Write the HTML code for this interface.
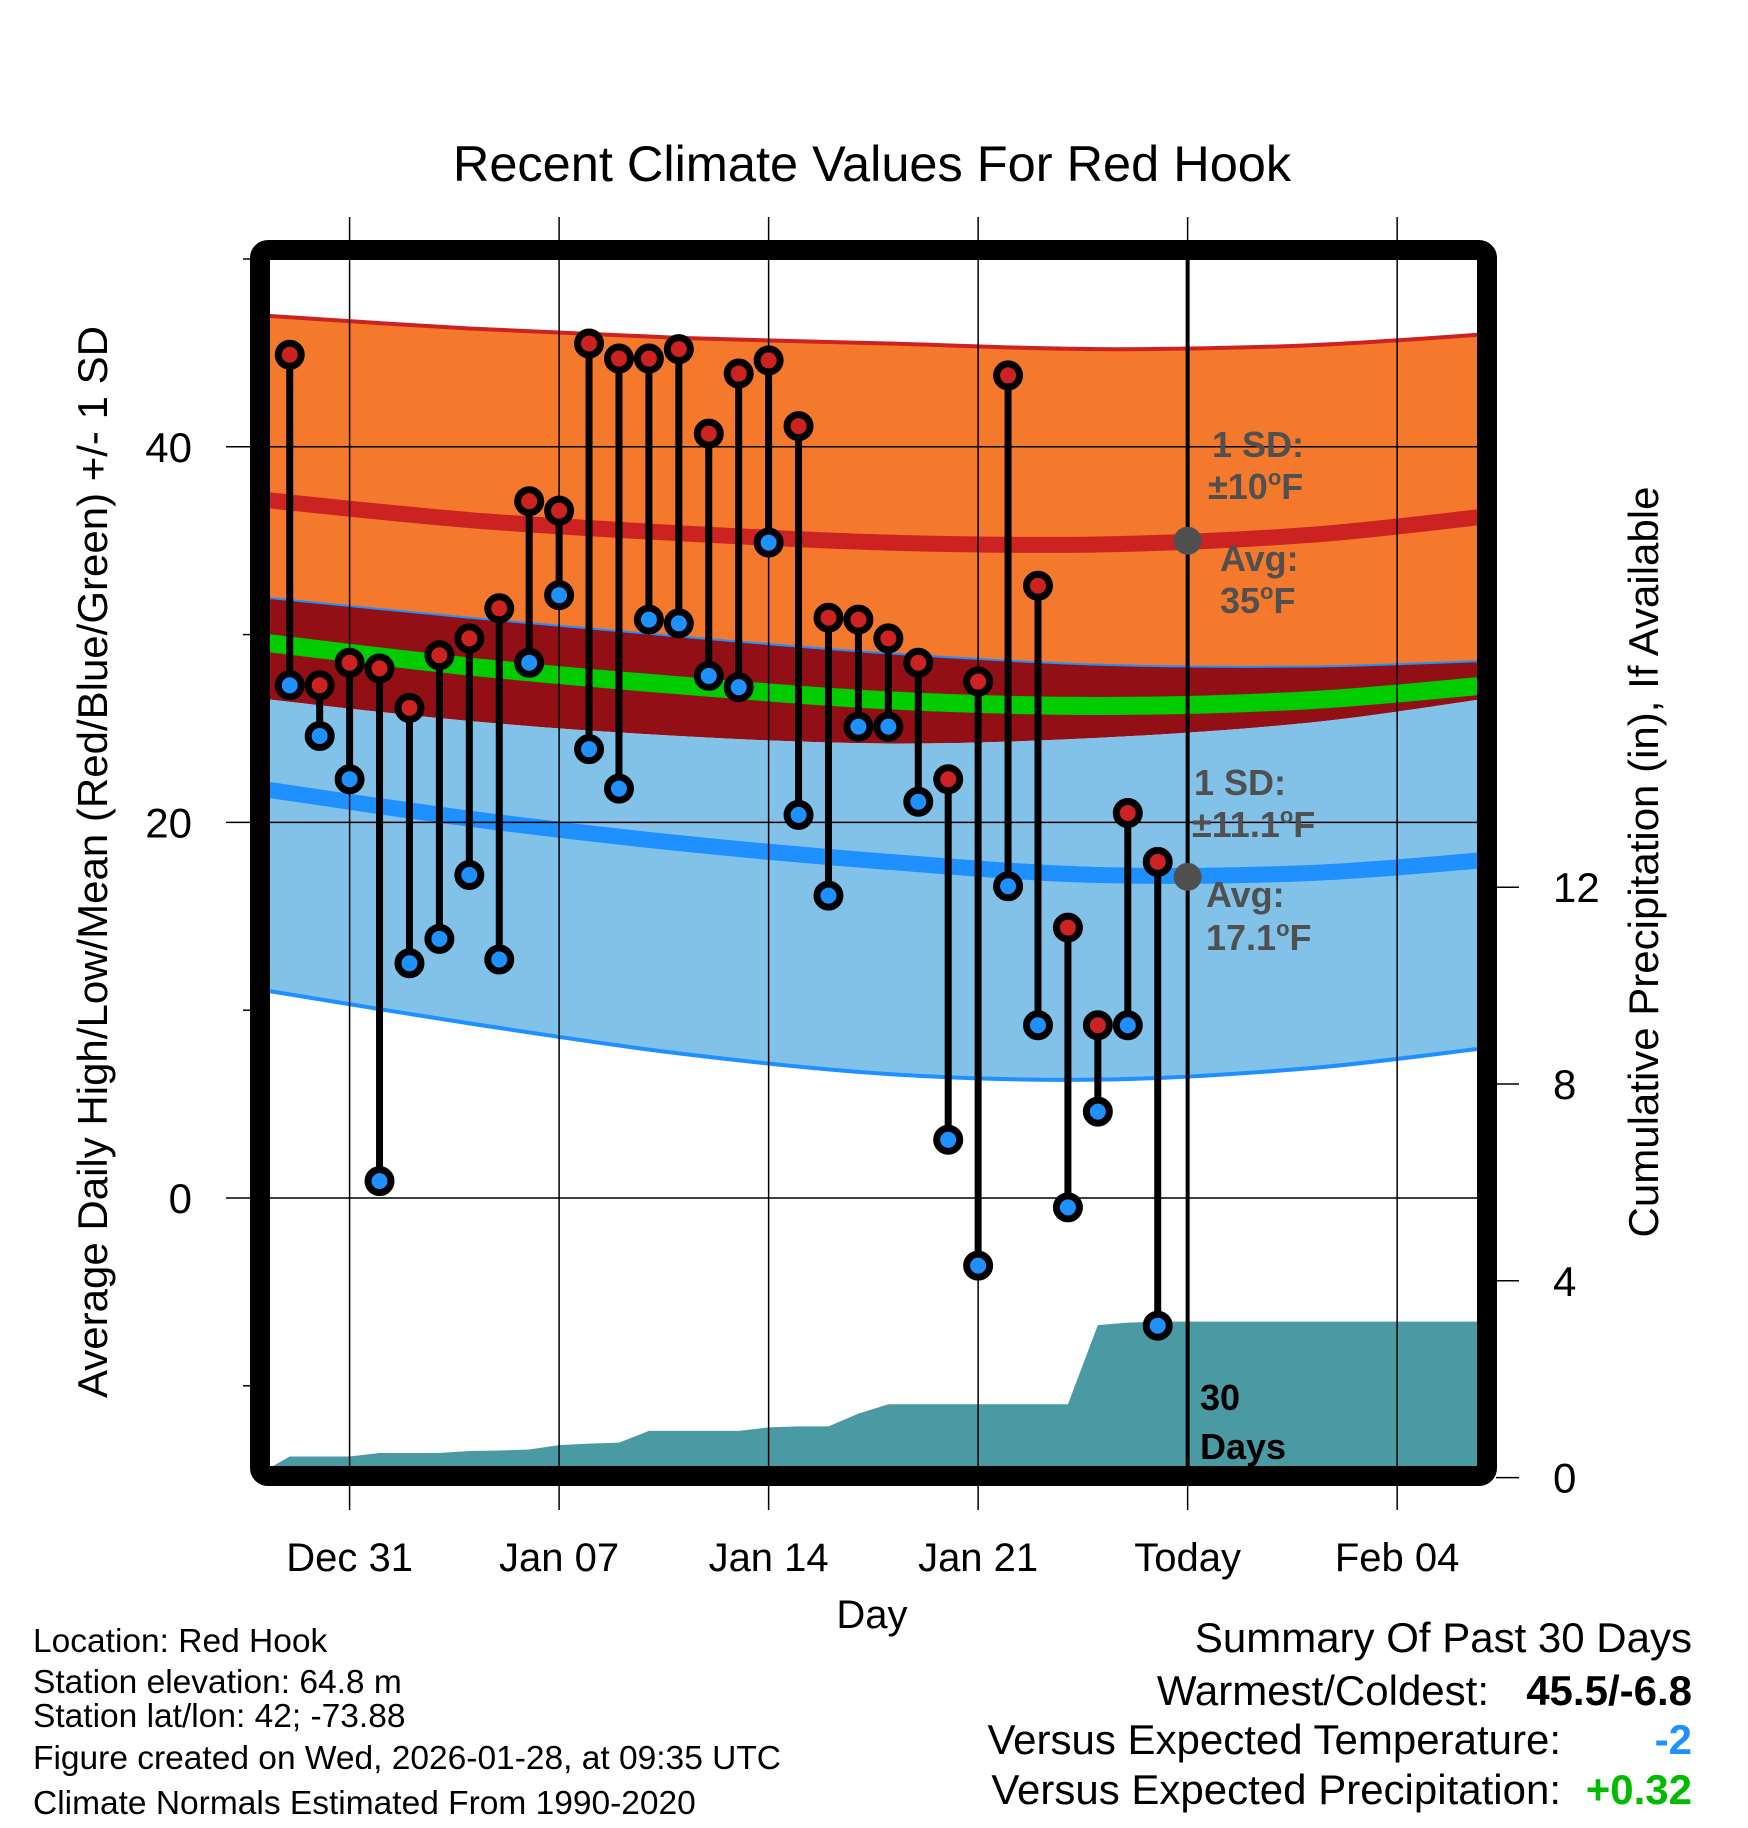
<!DOCTYPE html>
<html><head><meta charset="utf-8"><style>
html,body{margin:0;padding:0;background:#fff}
svg{display:block;font-family:"Liberation Sans",sans-serif}
</style></head><body>
<svg id="chart" width="1748" height="1828" viewBox="0 0 1748 1828" xmlns="http://www.w3.org/2000/svg">
<text x="872" y="181" font-size="50.5" text-anchor="middle">Recent Climate Values For Red Hook</text>
<g id="fills"></g>
<g id="grid"></g>
<g id="marks"></g>
<g id="annot" font-weight="bold" fill="#505050" font-size="36">
 <text x="1212" y="457">1 SD:</text>
 <text x="1208" y="499">±10<tspan font-size="22" dy="-14">o</tspan><tspan dy="14">F</tspan></text>
 <text x="1220" y="571">Avg:</text>
 <text x="1220" y="613">35<tspan font-size="22" dy="-14">o</tspan><tspan dy="14">F</tspan></text>
 <text x="1194" y="795">1 SD:</text>
 <text x="1192" y="837">±11.1<tspan font-size="22" dy="-14">o</tspan><tspan dy="14">F</tspan></text>
 <text x="1206" y="907">Avg:</text>
 <text x="1206" y="950">17.1<tspan font-size="22" dy="-14">o</tspan><tspan dy="14">F</tspan></text>
 <text x="1200" y="1410" fill="#000">30</text>
 <text x="1200" y="1459" fill="#000">Days</text>
</g>
<rect x="260" y="250" width="1227" height="1226" rx="8" fill="none" stroke="#000" stroke-width="20"/>
<text transform="translate(107,862) rotate(-90)" font-size="42" text-anchor="middle">Average Daily High/Low/Mean (Red/Blue/Green) +/- 1 SD</text>
<text transform="translate(1658,862) rotate(-90)" font-size="42" text-anchor="middle">Cumulative Precipitation (in), If Available</text>
<text x="872" y="1628" font-size="40" text-anchor="middle">Day</text>
<g font-size="33.5">
 <text x="33" y="1652">Location: Red Hook</text>
 <text x="33" y="1693">Station elevation: 64.8 m</text>
 <text x="33" y="1727">Station lat/lon: 42; -73.88</text>
 <text x="33" y="1769">Figure created on Wed, 2026-01-28, at 09:35 UTC</text>
 <text x="33" y="1814">Climate Normals Estimated From 1990-2020</text>
</g>
<g font-size="42" text-anchor="end">
 <text x="1692" y="1652">Summary Of Past 30 Days</text>
 <text x="1489" y="1705">Warmest/Coldest:</text>
 <text x="1692" y="1705" font-weight="bold">45.5/-6.8</text>
 <text x="1561" y="1754">Versus Expected Temperature:</text>
 <text x="1692" y="1754" font-weight="bold" fill="#1e90ff">-2</text>
 <text x="1561" y="1804">Versus Expected Precipitation:</text>
 <text x="1692" y="1804" font-weight="bold" fill="#00bb00">+0.32</text>
</g>
</svg>
<script>
const days=[-2,-1,0,1,2,3,4,5,6,7,8,9,10,11,12,13,14,15,16,17,18,19,20,21,22,23,24,25,26,27];
const highs=[44.9,27.3,28.5,28.2,26.1,28.9,29.8,31.4,37.1,36.6,45.5,44.7,44.7,45.2,40.7,43.9,44.6,41.1,30.9,30.8,29.8,28.5,22.3,27.5,43.8,32.6,14.4,9.2,20.5,17.9];
const lows=[27.3,24.6,22.3,0.9,12.5,13.8,17.2,12.7,28.5,32.1,23.9,21.8,30.8,30.6,27.8,27.2,34.9,20.4,16.1,25.1,25.1,21.1,3.1,-3.6,16.6,9.2,-0.5,4.6,9.2,-6.8];
const precip=[0.43,0.43,0.43,0.50,0.50,0.50,0.54,0.55,0.57,0.66,0.69,0.71,0.95,0.95,0.95,0.95,1.02,1.04,1.04,1.30,1.49,1.49,1.49,1.49,1.49,1.49,1.49,3.10,3.15,3.17];
const normDays=[-3,4,11,18,25,32,38];
const hiUp=[47.0,46.3,45.8,45.5,45.2,45.4,46.0];
const hiAvg=[37.2,36.1,35.4,34.9,34.8,35.3,36.3];
const hiLo=[32.0,30.9,29.9,29.0,28.4,28.3,28.6];
const meanT=[29.6,28.3,27.3,26.5,26.2,26.5,27.3];
const loUp=[26.6,25.4,24.6,24.2,24.5,25.3,26.6];
const loAvg=[21.8,20.2,18.9,17.9,17.2,17.3,18.0];
const loLo=[11.1,9.3,7.7,6.6,6.3,6.9,8.0];
const xTickDays=[0,7,14,21,28,35];
const xTickLabels=['Dec 31','Jan 07','Jan 14','Jan 21','Today','Feb 04'];
const yTicks=[40,20,0];
const yMinor=[50,30,10,-10];
const pTicks=[0,4,8,12];
const todayDay=28, todayHiAvg=35, todayLoAvg=17.1;

const X0=270,X1=1478,Y0=260,Y1=1467;
const xS=d=>349.6+29.93*d;
const yT=t=>1198-18.78*t;
const yP=p=>1477.6-49.2*p;
const NS='http://www.w3.org/2000/svg';
function mk(tag,attrs,parent){const e=document.createElementNS(NS,tag);for(const k in attrs)e.setAttribute(k,attrs[k]);parent.appendChild(e);return e;}
const fills=document.getElementById('fills'),grid=document.getElementById('grid'),marks=document.getElementById('marks');
const clip=mk('clipPath',{id:'pc'},fills);mk('rect',{x:X0,y:Y0,width:X1-X0,height:Y1-Y0},clip);
function pts(arr){return normDays.map((d,i)=>[xS(d),yT(arr[i])]);}
function smooth(p){let s='';for(let i=0;i<p.length;i++){if(i==0){s+='M'+p[0][0]+','+p[0][1];continue;}
 const p0=p[Math.max(i-2,0)],p1=p[i-1],p2=p[i],p3=p[Math.min(i+1,p.length-1)];
 s+=` C${p1[0]+(p2[0]-p0[0])/6},${p1[1]+(p2[1]-p0[1])/6} ${p2[0]-(p3[0]-p1[0])/6},${p2[1]-(p3[1]-p1[1])/6} ${p2[0]},${p2[1]}`;}return s;}
function band(a,b){const pa=pts(a),pb=pts(b).reverse();return smooth(pa)+' L'+pb[0][0]+','+pb[0][1]+smooth(pb).replace(/^M[^C]*/,'')+'Z';}
const g=mk('g',{'clip-path':'url(#pc)'},fills);
let e;
e=mk('path',{d:band(hiUp,hiLo),fill:'#f4792c'},g);


e=mk('path',{d:band(hiLo,loUp),fill:'#930f16'},g);


e=mk('path',{d:band(loUp,loLo),fill:'#82c1e8'},g);


e=mk('path',{d:smooth(pts(hiUp)),fill:'none',stroke:'#cc2222',"stroke-width":4},g);


e=mk('path',{d:smooth(pts(hiLo)),fill:'none',stroke:'#1e90ff',"stroke-width":2},g);


e=mk('path',{d:smooth(pts(loLo)),fill:'none',stroke:'#1e90ff',"stroke-width":4},g);


e=mk('path',{d:smooth(pts(hiAvg)),fill:'none',stroke:'#cc2222',"stroke-width":16},g);


e=mk('path',{d:smooth(pts(loAvg)),fill:'none',stroke:'#1e90ff',"stroke-width":16},g);


e=mk('path',{d:smooth(pts(meanT)),fill:'none',stroke:'#00cc00',"stroke-width":18},g);


let pd='M'+X0+','+Y1+' L'+X0+','+yP(0.2);
days.forEach((d,i)=>{pd+=' L'+xS(d)+','+yP(precip[i]);});
pd+=' L'+X1+','+yP(precip[precip.length-1])+' L'+X1+','+Y1+'Z';
e=mk('path',{d:pd,fill:'#4a9aa4'},g);


xTickDays.forEach((d,i)=>{
 e=mk('line',{x1:xS(d),x2:xS(d),y1:217,y2:1510,stroke:'#000','stroke-width':1.5},grid);
 
 
 e=mk('text',{x:xS(d),y:1571,'font-size':40,'text-anchor':'middle'},grid);e.textContent=xTickLabels[i];
 
 
});
yTicks.forEach(t=>{
 e=mk('line',{x1:226,x2:X1,y1:yT(t),y2:yT(t),stroke:'#000','stroke-width':1.5},grid);
 
 
 e=mk('text',{x:192,y:yT(t)+15,'font-size':42,'text-anchor':'end'},grid);e.textContent=t;
 
 
});
yMinor.forEach(t=>{
 e=mk('line',{x1:243,x2:252,y1:yT(t),y2:yT(t),stroke:'#000','stroke-width':1.5},grid);
 
 
});
pTicks.forEach(p=>{
 e=mk('line',{x1:1496,x2:1519,y1:yP(p),y2:yP(p),stroke:'#000','stroke-width':1.5},grid);
 
 
 e=mk('text',{x:1553,y:yP(p)+15,'font-size':42},grid);e.textContent=p;
 
 
});
e=mk('line',{x1:xS(todayDay),x2:xS(todayDay),y1:Y0,y2:Y1,stroke:'#000','stroke-width':4},marks);


e=mk('circle',{cx:xS(todayDay),cy:yT(todayHiAvg),r:14,fill:'#505050'},marks);


e=mk('circle',{cx:xS(todayDay),cy:yT(todayLoAvg),r:14,fill:'#505050'},marks);


days.forEach((d,i)=>{
 e=mk('line',{x1:xS(d),x2:xS(d),y1:yT(highs[i]),y2:yT(lows[i]),stroke:'#000','stroke-width':7},marks);
 
 
});
days.forEach((d,i)=>{
 e=mk('circle',{cx:xS(d),cy:yT(lows[i]),r:11.5,fill:'#1e90ff',stroke:'#000','stroke-width':7},marks);
 
 
 e=mk('circle',{cx:xS(d),cy:yT(highs[i]),r:11.5,fill:'#cc2222',stroke:'#000','stroke-width':7},marks);
 
 
});
</script>
</body></html>
